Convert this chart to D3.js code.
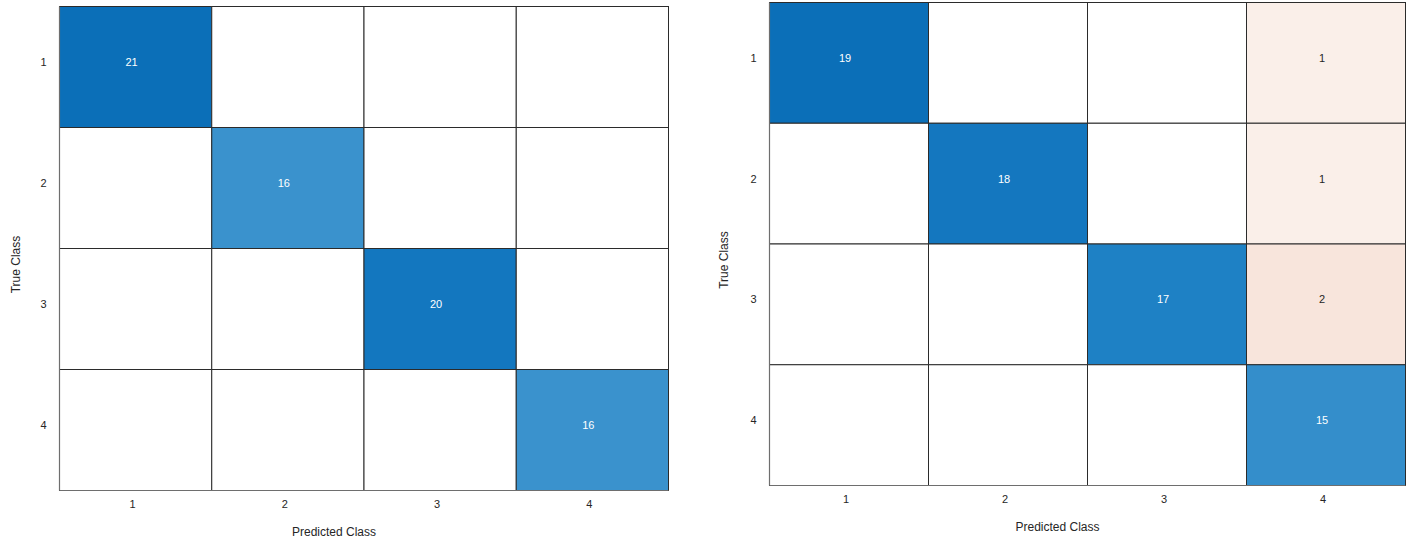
<!DOCTYPE html>
<html>
<head>
<meta charset="utf-8">
<script src="https://cdn.jsdelivr.net/npm/d3@7"></script>
<style>
  html, body { margin: 0; padding: 0; background: #fff; }
  svg { display: block; font-family: "Liberation Sans", Arial, Helvetica, sans-serif; }
</style>
</head>
<body>
<svg id="chart" width="1411" height="539"></svg>
<script>
// Class labels shared by both matrices
const classes = ["1", "2", "3", "4"];

// Confusion matrix counts (rows = true class, columns = predicted class); 0 = empty cell
const matrixLeft = [
  [21, 0, 0, 0],
  [0, 16, 0, 0],
  [0, 0, 20, 0],
  [0, 0, 0, 16]
];
const matrixRight = [
  [19, 0, 0, 1],
  [0, 18, 0, 1],
  [0, 0, 17, 2],
  [0, 0, 0, 15]
];

const axisTitleX = "Predicted Class";
const axisTitleY = "True Class";

const svg = d3.select("#chart");

// Diagonal (correct) cells: blue ramp on value / max
const diagColor = d3.scaleLinear()
  .domain([0, 0.76, 0.9, 0.95, 1])
  .range(["#ffffff", "#3a92cd", "#1d80c5", "#1377bf", "#0b6fb8"])
  .clamp(true);
// Off-diagonal (error) cells: pale orange ramp on value / max
const offColor = d3.scaleLinear()
  .domain([0, 0.05, 0.11])
  .range(["#ffffff", "#faefea", "#f8e4db"])
  .clamp(true);

function drawMatrix(matrix, box) {
  const g = svg.append("g");
  const x = d3.scaleBand().domain(classes).range([box.x0, box.x1]);
  const y = d3.scaleBand().domain(classes).range([box.y0, box.y1]);
  const maxVal = d3.max(matrix.flat());

  const cells = [];
  matrix.forEach((row, i) => row.forEach((v, j) => cells.push({ r: classes[i], c: classes[j], v, diag: i === j })));

  // cell fills
  g.selectAll("rect.cell").data(cells).join("rect")
    .attr("class", "cell")
    .attr("x", d => x(d.c))
    .attr("y", d => y(d.r))
    .attr("width", x.bandwidth())
    .attr("height", y.bandwidth())
    .attr("fill", d => d.v === 0 ? "#ffffff" : (d.diag ? diagColor(d.v / maxVal) : offColor(d.v / maxVal)))
    .attr("stroke", "#2b2b2b")
    .attr("stroke-width", 1);

  // outer frame: axis lines
  g.append("line").attr("x1", box.x0).attr("x2", box.x0).attr("y1", box.y0).attr("y2", box.y1)
    .attr("stroke", "#6e6e6e").attr("stroke-width", 1.2);
  g.append("line").attr("x1", box.x0).attr("x2", box.x1).attr("y1", box.y1).attr("y2", box.y1)
    .attr("stroke", "#6e6e6e").attr("stroke-width", 1.2);

  // value labels (anchored slightly up-left of the cell centre)
  g.selectAll("text.val").data(cells.filter(d => d.v > 0)).join("text")
    .attr("class", "val")
    .attr("x", d => x(d.c) + x.bandwidth() / 2 - 4)
    .attr("y", d => y(d.r) + y.bandwidth() / 2 - 5)
    .attr("text-anchor", "middle")
    .attr("dominant-baseline", "central")
    .attr("font-size", 11)
    .attr("fill", d => d.diag ? "#ffffff" : "#262626")
    .text(d => d.v);

  // tick labels
  g.selectAll("text.xt").data(classes).join("text")
    .attr("class", "xt")
    .attr("x", d => x(d) + x.bandwidth() / 2 - 3)
    .attr("y", box.y1 + 17)
    .attr("text-anchor", "middle")
    .attr("font-size", 11)
    .attr("fill", "#262626")
    .text(d => d);
  g.selectAll("text.yt").data(classes).join("text")
    .attr("class", "yt")
    .attr("x", box.x0 - 13)
    .attr("y", d => y(d) + y.bandwidth() / 2 - 5)
    .attr("text-anchor", "end")
    .attr("dominant-baseline", "central")
    .attr("font-size", 11)
    .attr("fill", "#262626")
    .text(d => d);

  // axis titles
  g.append("text")
    .attr("x", (box.x0 + box.x1) / 2 - 30)
    .attr("y", box.y1 + 45)
    .attr("text-anchor", "middle")
    .attr("font-size", 12)
    .attr("fill", "#262626")
    .text(axisTitleX);
  g.append("text")
    .attr("transform", `translate(${box.titleX},${(box.y0 + box.y1) / 2 + 16}) rotate(-90)`)
    .attr("text-anchor", "middle")
    .attr("font-size", 12)
    .attr("fill", "#262626")
    .text(axisTitleY);
}

drawMatrix(matrixLeft, { x0: 59.5, x1: 668.5, y0: 6.5, y1: 490.5, titleX: 20 });
drawMatrix(matrixRight, { x0: 769.5, x1: 1405.5, y0: 2.5, y1: 485.5, titleX: 728 });
</script>
</body>
</html>
